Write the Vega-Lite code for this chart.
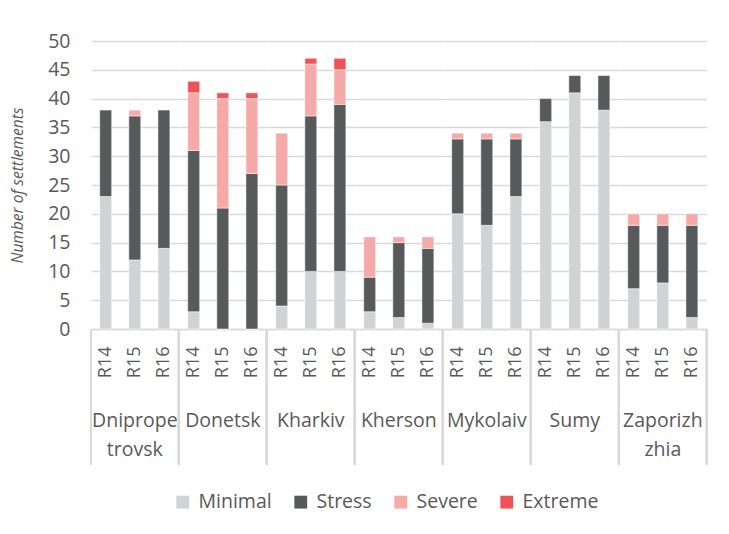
{
  "$schema": "https://vega.github.io/schema/vega-lite/v6.json",
  "padding": {"left": 10, "top": 31, "right": 5, "bottom": 5},
  "background": "white",
  "bounds": "flush",
  "data": {"values": [
    {"region": "Dnipropetrovsk", "round": "R14", "level": "Minimal", "phase": 1, "value": 23},
    {"region": "Dnipropetrovsk", "round": "R14", "level": "Stress", "phase": 2, "value": 15},
    {"region": "Dnipropetrovsk", "round": "R15", "level": "Minimal", "phase": 1, "value": 12},
    {"region": "Dnipropetrovsk", "round": "R15", "level": "Stress", "phase": 2, "value": 25},
    {"region": "Dnipropetrovsk", "round": "R15", "level": "Severe", "phase": 3, "value": 1},
    {"region": "Dnipropetrovsk", "round": "R16", "level": "Minimal", "phase": 1, "value": 14},
    {"region": "Dnipropetrovsk", "round": "R16", "level": "Stress", "phase": 2, "value": 24},
    {"region": "Donetsk", "round": "R14", "level": "Minimal", "phase": 1, "value": 3},
    {"region": "Donetsk", "round": "R14", "level": "Stress", "phase": 2, "value": 28},
    {"region": "Donetsk", "round": "R14", "level": "Severe", "phase": 3, "value": 10},
    {"region": "Donetsk", "round": "R14", "level": "Extreme", "phase": 4, "value": 2},
    {"region": "Donetsk", "round": "R15", "level": "Minimal", "phase": 1, "value": 0},
    {"region": "Donetsk", "round": "R15", "level": "Stress", "phase": 2, "value": 21},
    {"region": "Donetsk", "round": "R15", "level": "Severe", "phase": 3, "value": 19},
    {"region": "Donetsk", "round": "R15", "level": "Extreme", "phase": 4, "value": 1},
    {"region": "Donetsk", "round": "R16", "level": "Minimal", "phase": 1, "value": 0},
    {"region": "Donetsk", "round": "R16", "level": "Stress", "phase": 2, "value": 27},
    {"region": "Donetsk", "round": "R16", "level": "Severe", "phase": 3, "value": 13},
    {"region": "Donetsk", "round": "R16", "level": "Extreme", "phase": 4, "value": 1},
    {"region": "Kharkiv", "round": "R14", "level": "Minimal", "phase": 1, "value": 4},
    {"region": "Kharkiv", "round": "R14", "level": "Stress", "phase": 2, "value": 21},
    {"region": "Kharkiv", "round": "R14", "level": "Severe", "phase": 3, "value": 9},
    {"region": "Kharkiv", "round": "R15", "level": "Minimal", "phase": 1, "value": 10},
    {"region": "Kharkiv", "round": "R15", "level": "Stress", "phase": 2, "value": 27},
    {"region": "Kharkiv", "round": "R15", "level": "Severe", "phase": 3, "value": 9},
    {"region": "Kharkiv", "round": "R15", "level": "Extreme", "phase": 4, "value": 1},
    {"region": "Kharkiv", "round": "R16", "level": "Minimal", "phase": 1, "value": 10},
    {"region": "Kharkiv", "round": "R16", "level": "Stress", "phase": 2, "value": 29},
    {"region": "Kharkiv", "round": "R16", "level": "Severe", "phase": 3, "value": 6},
    {"region": "Kharkiv", "round": "R16", "level": "Extreme", "phase": 4, "value": 2},
    {"region": "Kherson", "round": "R14", "level": "Minimal", "phase": 1, "value": 3},
    {"region": "Kherson", "round": "R14", "level": "Stress", "phase": 2, "value": 6},
    {"region": "Kherson", "round": "R14", "level": "Severe", "phase": 3, "value": 7},
    {"region": "Kherson", "round": "R15", "level": "Minimal", "phase": 1, "value": 2},
    {"region": "Kherson", "round": "R15", "level": "Stress", "phase": 2, "value": 13},
    {"region": "Kherson", "round": "R15", "level": "Severe", "phase": 3, "value": 1},
    {"region": "Kherson", "round": "R16", "level": "Minimal", "phase": 1, "value": 1},
    {"region": "Kherson", "round": "R16", "level": "Stress", "phase": 2, "value": 13},
    {"region": "Kherson", "round": "R16", "level": "Severe", "phase": 3, "value": 2},
    {"region": "Mykolaiv", "round": "R14", "level": "Minimal", "phase": 1, "value": 20},
    {"region": "Mykolaiv", "round": "R14", "level": "Stress", "phase": 2, "value": 13},
    {"region": "Mykolaiv", "round": "R14", "level": "Severe", "phase": 3, "value": 1},
    {"region": "Mykolaiv", "round": "R15", "level": "Minimal", "phase": 1, "value": 18},
    {"region": "Mykolaiv", "round": "R15", "level": "Stress", "phase": 2, "value": 15},
    {"region": "Mykolaiv", "round": "R15", "level": "Severe", "phase": 3, "value": 1},
    {"region": "Mykolaiv", "round": "R16", "level": "Minimal", "phase": 1, "value": 23},
    {"region": "Mykolaiv", "round": "R16", "level": "Stress", "phase": 2, "value": 10},
    {"region": "Mykolaiv", "round": "R16", "level": "Severe", "phase": 3, "value": 1},
    {"region": "Sumy", "round": "R14", "level": "Minimal", "phase": 1, "value": 36},
    {"region": "Sumy", "round": "R14", "level": "Stress", "phase": 2, "value": 4},
    {"region": "Sumy", "round": "R15", "level": "Minimal", "phase": 1, "value": 41},
    {"region": "Sumy", "round": "R15", "level": "Stress", "phase": 2, "value": 3},
    {"region": "Sumy", "round": "R16", "level": "Minimal", "phase": 1, "value": 38},
    {"region": "Sumy", "round": "R16", "level": "Stress", "phase": 2, "value": 6},
    {"region": "Zaporizhzhia", "round": "R14", "level": "Minimal", "phase": 1, "value": 7},
    {"region": "Zaporizhzhia", "round": "R14", "level": "Stress", "phase": 2, "value": 11},
    {"region": "Zaporizhzhia", "round": "R14", "level": "Severe", "phase": 3, "value": 2},
    {"region": "Zaporizhzhia", "round": "R15", "level": "Minimal", "phase": 1, "value": 8},
    {"region": "Zaporizhzhia", "round": "R15", "level": "Stress", "phase": 2, "value": 10},
    {"region": "Zaporizhzhia", "round": "R15", "level": "Severe", "phase": 3, "value": 2},
    {"region": "Zaporizhzhia", "round": "R16", "level": "Minimal", "phase": 1, "value": 2},
    {"region": "Zaporizhzhia", "round": "R16", "level": "Stress", "phase": 2, "value": 16},
    {"region": "Zaporizhzhia", "round": "R16", "level": "Severe", "phase": 3, "value": 2}
  ]},
  "facet": {
    "column": {
      "field": "region",
      "type": "nominal",
      "title": null,
      "header": {
        "labelOrient": "bottom",
        "labelFont": "Open Sans",
        "labelFontSize": 19.5,
        "labelColor": "#595959",
        "labelPadding": 98,
        "labelLineHeight": 29,
        "labelBaseline": "alphabetic",
        "labelExpr": "datum.value == 'Dnipropetrovsk' ? ['Dniprope', 'trovsk'] : datum.value == 'Zaporizhzhia' ? ['Zaporizh', 'zhia'] : datum.value"
      }
    }
  },
  "spacing": 0,
  "resolve": {"scale": {"x": "independent"}},
  "spec": {
    "width": 87.6,
    "height": 288,
    "layer": [
      {
        "mark": {"type": "bar", "stroke": "white", "strokeWidth": 0.5},
        "encoding": {
          "x": {
            "field": "round",
            "type": "nominal",
            "scale": {"paddingInner": 0.59, "paddingOuter": 0.3},
            "axis": {
              "title": null,
              "labelAngle": -90,
              "labelFont": "Open Sans",
              "labelFontSize": 18,
              "labelColor": "#595959",
              "labelPadding": 17,
              "ticks": false,
              "domainColor": "#d9d9d9",
              "domainWidth": 1.5
            }
          },
          "y": {
            "aggregate": "sum",
            "field": "value",
            "type": "quantitative",
            "scale": {"domain": [0, 50]},
            "axis": {
              "title": "Number of settlements",
              "titleFont": "Open Sans",
              "titleFontStyle": "italic",
              "titleFontWeight": "normal",
              "titleFontSize": 15.5,
              "titleColor": "#595959",
              "titlePadding": 22,
              "values": [0, 5, 10, 15, 20, 25, 30, 35, 40, 45, 50],
              "tickCount": 12,
              "labelOverlap": false,
              "labelFont": "Open Sans",
              "labelFontSize": 19.5,
              "labelColor": "#595959",
              "labelPadding": 21,
              "ticks": false,
              "domain": false,
              "gridColor": "#d9d9d9",
              "gridWidth": 1.5
            }
          },
          "color": {
            "field": "level",
            "type": "nominal",
            "scale": {
              "domain": ["Minimal", "Stress", "Severe", "Extreme"],
              "range": ["#d1d2d4", "#58595b", "#f5a9a9", "#ee5457"]
            },
            "legend": {
              "title": null,
              "orient": "none",
              "direction": "horizontal",
              "legendX": 82,
              "legendY": 451,
              "symbolType": "square",
              "symbolSize": 165,
              "symbolStrokeWidth": 0,
              "labelFont": "Open Sans",
              "labelFontSize": 19.5,
              "labelColor": "#595959",
              "columnPadding": 19,
              "labelOffset": 6
            }
          },
          "order": {"field": "phase", "type": "quantitative", "sort": "ascending"}
        }
      },
      {
        "mark": {"type": "rule", "color": "#d9d9d9", "strokeWidth": 1.5},
        "encoding": {
          "x": {"field": "region", "type": "nominal", "bandPosition": 0, "scale": {"paddingInner": 0, "paddingOuter": 0}, "axis": null},
          "y": {"datum": 0},
          "y2": {"datum": -23.5}
        }
      },
      {
        "mark": {"type": "rule", "color": "#d9d9d9", "strokeWidth": 1.5},
        "encoding": {
          "x": {"field": "region", "type": "nominal", "bandPosition": 1, "scale": {"paddingInner": 0, "paddingOuter": 0}, "axis": null},
          "y": {"datum": 0},
          "y2": {"datum": -23.5}
        }
      }
    ],
    "resolve": {"scale": {"x": "independent"}}
  },
  "config": {
    "view": {"stroke": null},
    "axisY": {"tickCount": 12, "labelOverlap": false}
  }
}
